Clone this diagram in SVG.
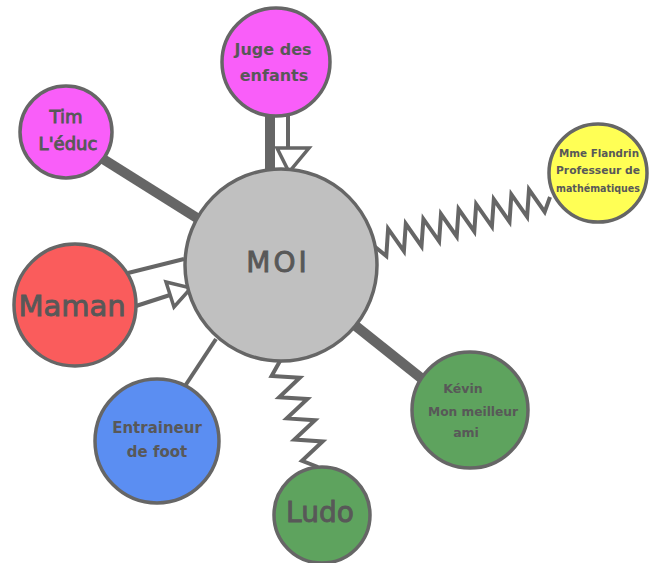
<svg xmlns="http://www.w3.org/2000/svg" width="649" height="563" viewBox="0 0 649 563">
<style>
.n{stroke:#666;stroke-width:3.5}
.t{fill:#585858;font-family:"DejaVu Sans",sans-serif;text-anchor:middle}
.r{stroke:#585858;stroke-width:0.9}
.b{font-weight:bold}
.c{fill:none;stroke:#666;stroke-width:4;stroke-linejoin:miter;stroke-linecap:butt}
.k{fill:none;stroke:#666;stroke-width:10}
.h{fill:#fff;stroke:#666;stroke-width:3.5;stroke-linejoin:miter}
</style>
<rect width="649" height="563" fill="#fff"/>
<g id="connectors">
  <line class="k" x1="270" y1="114" x2="270" y2="172"/>
  <line class="c" x1="288" y1="115" x2="288" y2="149"/>
  <polygon class="h" points="277,148 309,148 289,172"/>
  <line class="k" x1="103" y1="159" x2="197" y2="218"/>
  <line class="c" x1="128" y1="273" x2="184" y2="259"/>
  <line class="c" x1="136" y1="306" x2="170" y2="295"/>
  <polygon class="h" points="166,282 174,307 191,288"/>
  <line class="c" x1="185" y1="386" x2="216" y2="339"/>
  <polyline class="c" points="280,361 271.6,376 299.8,377.8 279.2,397.2 307.4,399 286.8,418.4 315,420.2 294.4,439.6 322.6,441.4 302,460.8 318,467"/>
  <line class="k" x1="352" y1="323" x2="421" y2="378"/>
  <polyline class="c" points="374,246 386.3,256 388.1,228.7 403.9,251.1 405.8,223.8 421.5,246.2 423.4,218.9 439.1,241.3 441,214 456.7,236.4 458.6,209.1 474.3,231.5 476.2,204.2 491.9,226.6 493.8,199.3 509.5,221.7 511.4,194.4 527.1,216.8 529,189.5 544.7,211.9 550,197"/>
</g>
<g id="moi">
  <circle class="n" cx="281" cy="265" r="96" fill="#c0c0c0"/>
  <text class="t r" x="278" y="272" font-size="28" letter-spacing="3">MOI</text>
</g>
<g id="juge">
  <circle class="n" cx="276" cy="62" r="54" fill="#f95ef9"/>
  <text class="t b" x="273" y="55" font-size="16">Juge des</text>
  <text class="t b" x="274" y="81" font-size="16">enfants</text>
</g>
<g id="tim">
  <circle class="n" cx="66" cy="132" r="46" fill="#f95ef9"/>
  <text class="t r" x="66" y="123" font-size="18">Tim</text>
  <text class="t r" x="68" y="150" font-size="18">L'éduc</text>
</g>
<g id="maman">
  <circle class="n" cx="75" cy="305" r="61" fill="#fa5c5c"/>
  <text class="t r" x="72" y="316" font-size="29">Maman</text>
</g>
<g id="entraineur">
  <circle class="n" cx="157" cy="441" r="62" fill="#5b8ef2"/>
  <text class="t b" x="157" y="433" font-size="15">Entraineur</text>
  <text class="t b" x="157" y="457" font-size="15">de foot</text>
</g>
<g id="ludo">
  <circle class="n" cx="322" cy="515" r="48" fill="#5ea35e"/>
  <text class="t r" x="320" y="522" font-size="28">Ludo</text>
</g>
<g id="kevin">
  <circle class="n" cx="470" cy="410" r="58" fill="#5ea35e"/>
  <text class="t b" x="463" y="393" font-size="12.5">Kévin</text>
  <text class="t b" x="473" y="416" font-size="12.5" textLength="90" lengthAdjust="spacingAndGlyphs">Mon meilleur</text>
  <text class="t b" x="466" y="437" font-size="12.5">ami</text>
</g>
<g id="flandrin">
  <circle class="n" cx="598" cy="173" r="49" fill="#ffff55"/>
  <text class="t b" x="599" y="157" font-size="10.5" textLength="80" lengthAdjust="spacingAndGlyphs">Mme Flandrin</text>
  <text class="t b" x="598" y="174" font-size="10.5" textLength="84" lengthAdjust="spacingAndGlyphs">Professeur de</text>
  <text class="t b" x="598" y="192" font-size="10.5" textLength="84" lengthAdjust="spacingAndGlyphs">mathématiques</text>
</g>
</svg>
